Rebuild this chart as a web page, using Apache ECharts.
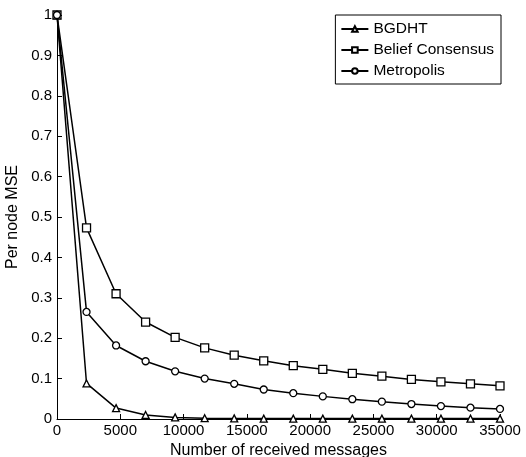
<!DOCTYPE html>
<html><head><meta charset="utf-8">
<script src="https://cdn.jsdelivr.net/npm/echarts@6/dist/echarts.min.js"></script>
<style>html,body{margin:0;padding:0;background:#fff}#c{width:526px;height:457px}</style>
</head><body><div id="c"></div>
<script>
var xValues = [0, 2333, 4667, 7000, 9333, 11667, 14000, 16333, 18667, 21000, 23333, 25667, 28000, 30333, 32667, 35000];
var bgdht = [1, 0.088, 0.027, 0.010, 0.004, 0.002, 0.0015, 0.001, 0.001, 0.001, 0.001, 0.001, 0.001, 0.001, 0.001, 0.001];
var belief = [1, 0.473, 0.310, 0.240, 0.202, 0.176, 0.158, 0.144, 0.132, 0.123, 0.113, 0.106, 0.098, 0.092, 0.087, 0.082];
var metropolis = [1, 0.265, 0.182, 0.143, 0.118, 0.100, 0.087, 0.073, 0.064, 0.056, 0.049, 0.043, 0.037, 0.032, 0.028, 0.025];
var xTicks = [0, 5000, 10000, 15000, 20000, 25000, 30000, 35000];
var yTicks = [0, 0.1, 0.2, 0.3, 0.4, 0.5, 0.6, 0.7, 0.8, 0.9, 1];

function pairs(ys){ return xValues.map(function(x,i){ return [x, ys[i]]; }); }
var font = 'Liberation Sans, Arial, sans-serif';
var fs = 15.5;
var chart = echarts.init(document.getElementById('c'));
function mk(name, data, symbol, size){
  return {name:name, type:'line', data:pairs(data), symbol:symbol, symbolSize:size,
    lineStyle:{color:'#000', width:1.5}, itemStyle:{color:'#fff', borderColor:'#000', borderWidth:1.3},
    emphasis:{disabled:true}, animation:false, z:3};
}
chart.setOption({
  animation:false,
  backgroundColor:'#fff',
  textStyle:{fontFamily:font},
  grid:{left:57, right:26, top:15, bottom:38, containLabel:false, outerBoundsMode:'none'},
  legend:{right:25, top:15, orient:'vertical', align:'left', itemWidth:27, itemHeight:7, itemGap:5,
    borderColor:'#000', borderWidth:1, backgroundColor:'#fff', padding:[6,7,5,5],
    textStyle:{fontFamily:font, fontSize:fs, color:'#000'},
    data:['BGDHT','Belief Consensus','Metropolis']},
  xAxis:{type:'value', min:0, max:35000, interval:5000,
    name:'Number of received messages', nameLocation:'middle', nameGap:20,
    nameTextStyle:{fontFamily:font, fontSize:16, color:'#000'},
    axisLine:{lineStyle:{color:'#000', width:1}}, axisTick:{inside:true, length:5, lineStyle:{color:'#000'}},
    axisLabel:{fontFamily:font, fontSize:15, color:'#000', margin:4,
      formatter:function(v){ return xTicks.indexOf(v)>=0 ? String(v) : ''; }},
    splitLine:{show:false}},
  yAxis:{type:'value', min:0, max:1, interval:0.1,
    name:'Per node MSE', nameLocation:'middle', nameGap:30,
    nameTextStyle:{fontFamily:font, fontSize:16, color:'#000'},
    axisLine:{show:true, lineStyle:{color:'#000', width:1}}, axisTick:{show:true, inside:true, length:5, lineStyle:{color:'#000'}},
    axisLabel:{fontFamily:font, fontSize:15, color:'#000', margin:5,
      formatter:function(v){ var r=Math.round(v*10)/10; return yTicks.indexOf(r)>=0 ? String(r) : ''; }},
    splitLine:{show:false}},
  series:[
    mk('BGDHT', bgdht, 'triangle', 7),
    mk('Belief Consensus', belief, 'rect', 8),
    mk('Metropolis', metropolis, 'circle', 7)
  ]
});
</script></body></html>
